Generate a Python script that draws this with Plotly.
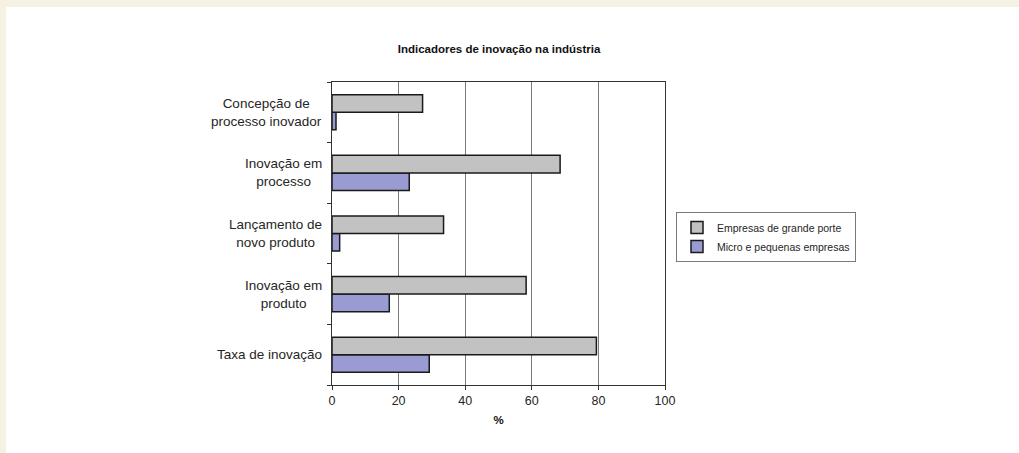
import plotly.graph_objects as go

categories = [
    "Taxa de inovação",
    "Inovação em produto",
    "Lançamento de novo produto",
    "Inovação em processo",
    "Concepção de processo inovador",
]
labels = [
    "Taxa de inovação",
    "Inovação em<br>produto",
    "Lançamento de<br>novo produto",
    "Inovação em<br>processo",
    "Concepção de<br>processo inovador",
]
grande = [79.4, 58.3, 33.5, 68.5, 27.2]
micro = [29.2, 17.2, 2.3, 23.2, 1.2]
x_ticks = [0, 20, 40, 60, 80, 100]

FONT = "Liberation Sans, Arial, sans-serif"
TXT = "#262626"

fig = go.Figure()
fig.add_trace(go.Bar(
    y=categories, x=micro, orientation="h", name="Micro e pequenas empresas",
    marker=dict(color="#9b9bd3", line=dict(color="#1a1a1a", width=1.5)),
    legendrank=2,
))
fig.add_trace(go.Bar(
    y=categories, x=grande, orientation="h", name="Empresas de grande porte",
    marker=dict(color="#c2c2c2", line=dict(color="#1a1a1a", width=1.5)),
    legendrank=1,
))

# left category labels, centered multi-line
for c, lab in zip(categories, labels):
    fig.add_annotation(
        x=0, xref="paper", xanchor="right", xshift=-8,
        y=c, yref="y", yanchor="middle",
        text=lab, align="center", showarrow=False,
        font=dict(family=FONT, size=13.5, color=TXT),
    )

# white card over beige page background
fig.add_shape(
    type="rect", xref="paper", yref="paper",
    x0=(6 - 332) / 333, x1=(1030 - 332) / 333,
    y0=(385 - 470) / 303, y1=(385 - 7) / 303,
    fillcolor="white", line=dict(width=0), layer="below",
)

fig.update_layout(
    width=1019, height=453,
    margin=dict(l=332, r=354, t=82, b=68),
    paper_bgcolor="#f6f2e3",
    plot_bgcolor="white",
    barmode="group",
    bargap=0.42,
    bargroupgap=0,
    font=dict(family=FONT, color=TXT, size=12.5),
    title=dict(
        text="<b>Indicadores de inovação na indústria</b>",
        x=499 / 1019, xanchor="center",
        y=1 - 49 / 453, yanchor="middle",
        font=dict(family=FONT, size=11.5, color="#111"),
    ),
    showlegend=True,
    legend=dict(
        x=(676 - 332) / 333, xanchor="left",
        y=(385 - 212) / 303, yanchor="top",
        bordercolor="#7a7a7a", borderwidth=1, bgcolor="white",
        font=dict(family=FONT, size=10.5, color=TXT),
        tracegroupgap=0, itemwidth=30,
    ),
    xaxis=dict(
        range=[0, 100], tickvals=x_ticks, ticks="outside", ticklen=4,
        tickcolor="#333", showgrid=True, gridcolor="#7a7a7a", gridwidth=1,
        showline=True, linecolor="#333", linewidth=1, mirror=True,
        zeroline=False, tickfont=dict(size=12.5, color=TXT),
        title=dict(text="<b>%</b>", font=dict(size=11.5, color="#111"), standoff=8),
    ),
    yaxis=dict(
        showticklabels=False, ticks="outside", ticklen=4, tickson="boundaries",
        tickcolor="#333", showgrid=False,
        showline=True, linecolor="#333", linewidth=1, mirror=True,
        categoryorder="array", categoryarray=categories,
    ),
)

fig.write_html(
    "out.html",
    config={"displayModeBar": False},
    post_script="document.body.style.margin='0';document.body.style.overflow='hidden';",
)
